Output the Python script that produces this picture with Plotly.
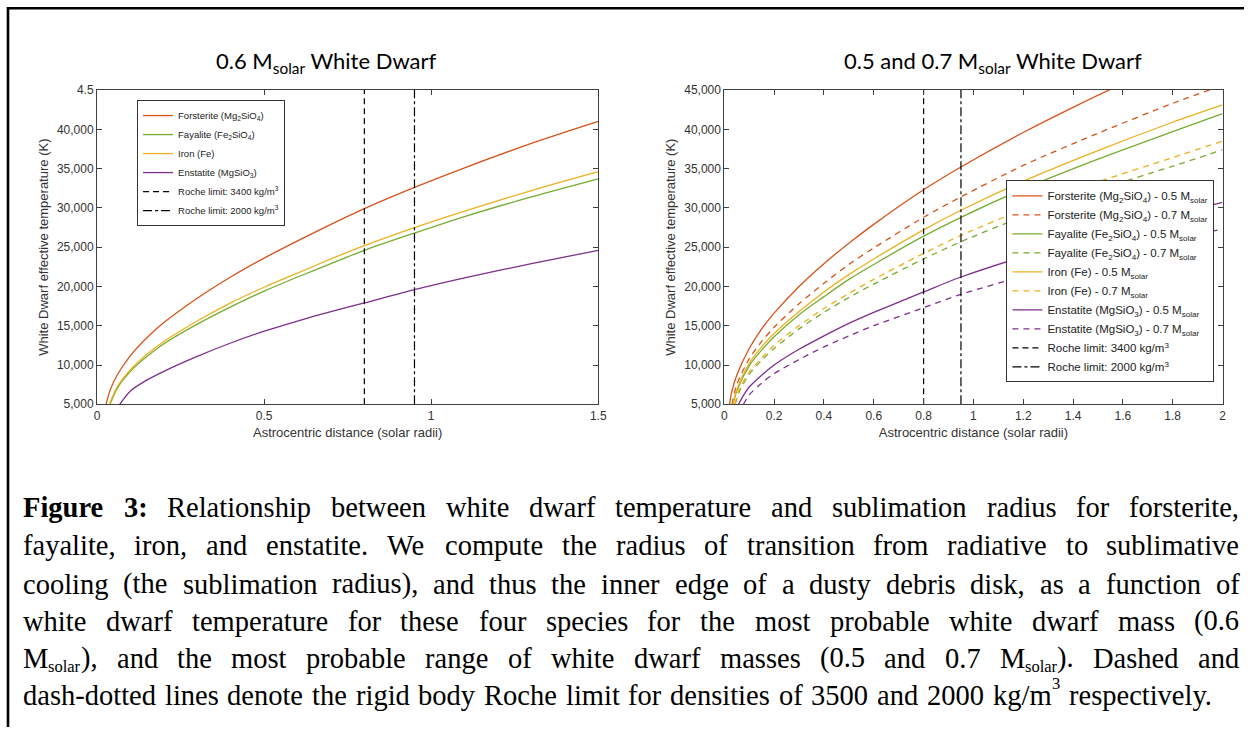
import re
import plotly.graph_objects as go

W, H = 1253, 734

# ---------------- data ----------------
# Left panel: 0.6 M_solar white dwarf  (r in solar radii, T in K)
fo06_r = [0.027, 0.04, 0.06, 0.1, 0.15, 0.2, 0.3, 0.4, 0.5, 0.6, 0.7, 0.8, 0.95, 1.1, 1.3, 1.5]
fo06_t = [5000, 6900, 8700, 11200, 13500, 15400, 18500, 21200, 23600, 25800, 27900, 29900, 32600, 35100, 38200, 41000]
fa06_r = [0.039, 0.06, 0.1, 0.15, 0.2, 0.3, 0.4, 0.5, 0.6, 0.7, 0.8, 0.95, 1.1, 1.3, 1.5]
fa06_t = [5000, 7000, 9200, 11100, 12700, 15200, 17400, 19400, 21200, 22900, 24600, 26800, 28900, 31400, 33700]
fe06_r = [0.037, 0.06, 0.1, 0.15, 0.2, 0.3, 0.4, 0.5, 0.6, 0.7, 0.8, 0.95, 1.1, 1.3, 1.5]
fe06_t = [5000, 7200, 9400, 11400, 13000, 15600, 17900, 19900, 21700, 23500, 25200, 27500, 29600, 32200, 34600]
en06_r = [0.068, 0.1, 0.15, 0.2, 0.3, 0.4, 0.5, 0.6, 0.7, 0.8, 0.95, 1.1, 1.3, 1.5]
en06_t = [5000, 6700, 8100, 9200, 11100, 12800, 14300, 15600, 16800, 17900, 19600, 21100, 22900, 24600]

# Right panel: 0.5 and 0.7 M_solar white dwarfs
fo05_r = [0.021, 0.03, 0.05, 0.1, 0.15, 0.2, 0.3, 0.4, 0.5, 0.6, 0.8, 0.95, 1.2, 1.4, 1.6, 2.0]
fo05_t = [5000, 6600, 8700, 12100, 14600, 16600, 20000, 22900, 25500, 27900, 32300, 35200, 39600, 42800, 45800, 51100]
fo07_r = [0.031, 0.05, 0.1, 0.15, 0.2, 0.3, 0.4, 0.5, 0.6, 0.8, 0.95, 1.2, 1.5, 1.8, 2.0]
fo07_t = [5000, 7500, 10800, 13000, 14800, 17800, 20400, 22800, 24900, 28800, 31400, 35400, 39500, 43300, 45600]
fa05_r = [0.035, 0.05, 0.1, 0.15, 0.2, 0.3, 0.4, 0.5, 0.6, 0.8, 0.95, 1.2, 1.5, 1.8, 2.0]
fa05_t = [5000, 6700, 9900, 11900, 13600, 16400, 18700, 20900, 22800, 26400, 28800, 32400, 36200, 39700, 42000]
fa07_r = [0.044, 0.06, 0.1, 0.15, 0.2, 0.3, 0.4, 0.5, 0.6, 0.8, 0.95, 1.2, 1.5, 1.8, 2.0]
fa07_t = [5000, 6600, 8800, 10600, 12100, 14600, 16700, 18600, 20300, 23500, 25700, 28900, 32300, 35300, 37400]
fe05_r = [0.034, 0.05, 0.1, 0.15, 0.2, 0.3, 0.4, 0.5, 0.6, 0.8, 0.95, 1.2, 1.5, 1.8, 2.0]
fe05_t = [5000, 6900, 10200, 12300, 14000, 16800, 19300, 21500, 23500, 27200, 29700, 33400, 37300, 40900, 43100]
fe07_r = [0.042, 0.06, 0.1, 0.15, 0.2, 0.3, 0.4, 0.5, 0.6, 0.8, 0.95, 1.2, 1.5, 1.8, 2.0]
fe07_t = [5000, 6900, 9100, 10900, 12500, 15000, 17200, 19100, 20900, 24200, 26500, 29800, 33300, 36400, 38500]
en05_r = [0.057, 0.08, 0.1, 0.15, 0.2, 0.3, 0.4, 0.5, 0.6, 0.8, 0.95, 1.2, 1.5, 1.8, 2.0]
en05_t = [5000, 6300, 7200, 8700, 10000, 12000, 13700, 15300, 16700, 19300, 21200, 23800, 26500, 29100, 30700]
en07_r = [0.077, 0.1, 0.15, 0.2, 0.3, 0.4, 0.5, 0.6, 0.8, 0.95, 1.2, 1.5, 1.8, 2.0]
en07_t = [5000, 6200, 7700, 8900, 10700, 12300, 13700, 15000, 17300, 19000, 21300, 23800, 26000, 27300]

# Roche limits (solar radii)
roche_3400 = 0.8
roche_2000 = 0.95
t_span = [5000, 45000]

# tick labels
y_vals = [5000, 10000, 15000, 20000, 25000, 30000, 35000, 40000, 45000]
y_text_left = ["5,000", "10,000", "15,000", "20,000", "25,000", "30,000", "35,000", "40,000", "4.5"]
y_text_right = ["5,000", "10,000", "15,000", "20,000", "25,000", "30,000", "35,000", "40,000", "45,000"]
x_vals_left = [0, 0.5, 1, 1.5]
x_text_left = ["0", "0.5", "1", "1.5"]
x_vals_right = [0, 0.2, 0.4, 0.6, 0.8, 1, 1.2, 1.4, 1.6, 1.8, 2]
x_text_right = ["0", "0.2", "0.4", "0.6", "0.8", "1", "1.2", "1.4", "1.6", "1.8", "2"]

caption_lines = [
    "<b>Figure</b> <b>3:</b> Relationship between white dwarf temperature and sublimation radius for forsterite,",
    "fayalite, iron, and enstatite. We compute the radius of transition from radiative to sublimative",
    "cooling (the sublimation radius), and thus the inner edge of a dusty debris disk, as a function of",
    "white dwarf temperature for these four species for the most probable white dwarf mass (0.6",
    "M<sub>solar</sub>), and the most probable range of white dwarf masses (0.5 and 0.7 M<sub>solar</sub>). Dashed and",
    "dash-dotted lines denote the rigid body Roche limit for densities of 3500 and 2000 kg/m<sup>3</sup> respectively.",
]

# ---------------- styles ----------------
C_FO = "#D95319"
C_FA = "#77AC30"
C_FE = "#EDB120"
C_EN = "#7E2F8E"
AX = "#404040"
SANS = "Liberation Sans, Arial, sans-serif"
TICKFONT = dict(family=SANS, size=12, color="#333333")
LW = 1.3

# page placement calibration (photographed page is offset/scaled slightly)
SX, OX = 0.990, 3.0
SY, OY = 0.977, 8.3


def px(x):
    return ((x - OX) / SX) / W


def py(y):
    return 1 - ((y - OY) / SY) / H


fig = go.Figure()

left = [
    (fo06_r, fo06_t, C_FO, "Forsterite (Mg<sub>2</sub>SiO<sub>4</sub>)"),
    (fa06_r, fa06_t, C_FA, "Fayalite (Fe<sub>2</sub>SiO<sub>4</sub>)"),
    (fe06_r, fe06_t, C_FE, "Iron (Fe)"),
    (en06_r, en06_t, C_EN, "Enstatite (MgSiO<sub>3</sub>)"),
]
for r, t, c, name in left:
    fig.add_trace(go.Scatter(x=r, y=t, mode="lines", name=name,
                             line=dict(color=c, width=LW, shape="spline", smoothing=0.8),
                             xaxis="x", yaxis="y", legend="legend"))
fig.add_trace(go.Scatter(x=[roche_3400, roche_3400], y=t_span, mode="lines", name="Roche limit: 3400 kg/m<sup>3</sup>",
                         line=dict(color="black", width=1.2, dash="6px,4px"), xaxis="x", yaxis="y", legend="legend"))
fig.add_trace(go.Scatter(x=[roche_2000, roche_2000], y=t_span, mode="lines", name="Roche limit: 2000 kg/m<sup>3</sup>",
                         line=dict(color="black", width=1.2, dash="dashdot"), xaxis="x", yaxis="y", legend="legend"))

MS = " M<sub>solar</sub>"
right = [
    (fo05_r, fo05_t, C_FO, "solid", "Forsterite (Mg<sub>2</sub>SiO<sub>4</sub>) - 0.5" + MS),
    (fo07_r, fo07_t, C_FO, "6px,5px", "Forsterite (Mg<sub>2</sub>SiO<sub>4</sub>) - 0.7" + MS),
    (fa05_r, fa05_t, C_FA, "solid", "Fayalite (Fe<sub>2</sub>SiO<sub>4</sub>) - 0.5" + MS),
    (fa07_r, fa07_t, C_FA, "6px,5px", "Fayalite (Fe<sub>2</sub>SiO<sub>4</sub>) - 0.7" + MS),
    (fe05_r, fe05_t, C_FE, "solid", "Iron (Fe) - 0.5" + MS),
    (fe07_r, fe07_t, C_FE, "6px,5px", "Iron (Fe) - 0.7" + MS),
    (en05_r, en05_t, C_EN, "solid", "Enstatite (MgSiO<sub>3</sub>) - 0.5" + MS),
    (en07_r, en07_t, C_EN, "6px,5px", "Enstatite (MgSiO<sub>3</sub>) - 0.7" + MS),
]
for r, t, c, d, name in right:
    fig.add_trace(go.Scatter(x=r, y=t, mode="lines", name=name,
                             line=dict(color=c, width=LW, dash=d, shape="spline", smoothing=0.8),
                             xaxis="x2", yaxis="y2", legend="legend2"))
fig.add_trace(go.Scatter(x=[roche_3400, roche_3400], y=t_span, mode="lines", name="Roche limit: 3400 kg/m<sup>3</sup>",
                         line=dict(color="black", width=1.2, dash="6px,4px"), xaxis="x2", yaxis="y2", legend="legend2"))
fig.add_trace(go.Scatter(x=[roche_2000, roche_2000], y=t_span, mode="lines", name="Roche limit: 2000 kg/m<sup>3</sup>",
                         line=dict(color="black", width=1.2, dash="dashdot"), xaxis="x2", yaxis="y2", legend="legend2"))

axis_common = dict(showline=True, linecolor=AX, linewidth=1, mirror="ticks", ticks="inside", ticklen=5,
                   tickcolor=AX, tickwidth=1, showgrid=False, zeroline=False, tickfont=TICKFONT)
title_font = dict(family=SANS, size=13, color="#333333")
XT = "Astrocentric distance (solar radii)"
YT = "White Dwarf effective temperature (K)"

fig.update_layout(
    width=W, height=H, margin=dict(l=0, r=0, t=0, b=0),
    paper_bgcolor="white", plot_bgcolor="white",
    xaxis=dict(domain=[px(97), px(598)], range=[0, 1.5], tickvals=x_vals_left, ticktext=x_text_left,
               anchor="y", title=dict(text=XT, font=title_font, standoff=6), **axis_common),
    yaxis=dict(domain=[py(404), py(91)], range=[5000, 45000], tickvals=y_vals, ticktext=y_text_left,
               anchor="x", title=dict(text=YT, font=title_font, standoff=5), **axis_common),
    xaxis2=dict(domain=[px(724), px(1222)], range=[0, 2], tickvals=x_vals_right, ticktext=x_text_right,
                anchor="y2", title=dict(text=XT, font=title_font, standoff=6), **axis_common),
    yaxis2=dict(domain=[py(404), py(91)], range=[5000, 45000], tickvals=y_vals, ticktext=y_text_right,
                anchor="x2", title=dict(text=YT, font=title_font, standoff=5), **axis_common),
    legend=dict(x=px(137), y=py(101), xanchor="left", yanchor="top", bgcolor="white", bordercolor="#333333",
                borderwidth=1, font=dict(family=SANS, size=9.5, color="#222222"),
                itemwidth=30, tracegroupgap=0),
    legend2=dict(x=px(1006), y=py(181), xanchor="left", yanchor="top", bgcolor="white", bordercolor="#333333",
                 borderwidth=1, font=dict(family=SANS, size=11.5, color="#222222"),
                 itemwidth=30, tracegroupgap=0),
)

# panel titles
title_f = dict(family="Lato, Open Sans, sans-serif", size=22, color="black")
fig.add_annotation(x=px(326), y=py(63), xref="paper", yref="paper", showarrow=False, xanchor="center",
                   yanchor="middle", text="0.6 M<sub>solar</sub> White Dwarf", font=title_f)
fig.add_annotation(x=px(993), y=py(63), xref="paper", yref="paper", showarrow=False, xanchor="center",
                   yanchor="middle", text="0.5 and 0.7 M<sub>solar</sub> White Dwarf", font=title_f)

# ---------------- caption: justified, word by word ----------------
TIMES = {' ': 250, '!': 333, '(': 333, ')': 333, ',': 250, '-': 333, '.': 250, '/': 278, ':': 278,
         'A': 722, 'B': 667, 'C': 667, 'D': 722, 'E': 611, 'F': 556, 'G': 722, 'H': 722, 'I': 333, 'J': 389,
         'K': 722, 'L': 611, 'M': 889, 'N': 722, 'O': 722, 'P': 556, 'Q': 722, 'R': 667, 'S': 556, 'T': 611,
         'U': 722, 'V': 722, 'W': 944, 'X': 722, 'Y': 722, 'Z': 611,
         'a': 444, 'b': 500, 'c': 444, 'd': 500, 'e': 444, 'f': 333, 'g': 500, 'h': 500, 'i': 278, 'j': 278,
         'k': 500, 'l': 278, 'm': 778, 'n': 500, 'o': 500, 'p': 500, 'q': 500, 'r': 333, 's': 389, 't': 278,
         'u': 500, 'v': 500, 'w': 722, 'x': 500, 'y': 500, 'z': 444}
TIMES_BOLD = {'F': 611, 'i': 278, 'g': 500, 'u': 556, 'r': 444, 'e': 444, ':': 333}
CAP_SIZE = 28.5
SMALL = 0.58  # size ratio of sub/superscripts in the caption
SERIF = "Liberation Serif, Times New Roman, serif"


def segments(word):
    """split a word into (kind, text) pieces: plain, bold, sub, sup"""
    out = []
    for seg in re.split(r"(<sub>.*?</sub>|<sup>.*?</sup>|<b>.*?</b>)", word):
        if not seg:
            continue
        inner = re.sub(r"<[^>]+>", "", seg)
        kind = "sub" if seg.startswith("<sub>") else "sup" if seg.startswith("<sup>") else \
            "bold" if seg.startswith("<b>") else "plain"
        out.append((kind, inner))
    return out


def seg_width(kind, text, size):
    if kind in ("sub", "sup"):
        return sum(TIMES.get(ch, 500) for ch in text) * SMALL / 1000.0 * size
    if kind == "bold":
        return sum(TIMES_BOLD.get(ch, TIMES.get(ch, 500)) for ch in text) / 1000.0 * size
    return sum(TIMES.get(ch, 500) for ch in text) / 1000.0 * size


cap_y = [507, 545, 583, 620, 657, 694]
cap_x0 = 22
cap_x1 = [1238, 1238, 1238, 1238, 1238, 1212]
for line, yy, xe in zip(caption_lines, cap_y, cap_x1):
    words = [segments(w_) for w_ in line.split(" ")]
    widths = [sum(seg_width(k, t, CAP_SIZE) for k, t in segs) for segs in words]
    gap = (xe - cap_x0 - sum(widths)) / (len(words) - 1)
    x = cap_x0
    for segs, wd in zip(words, widths):
        sx = x
        for kind, txt in segs:
            size = CAP_SIZE * SMALL if kind in ("sub", "sup") else CAP_SIZE
            dy = 0.30 * CAP_SIZE if kind == "sub" else (-0.42 * CAP_SIZE if kind == "sup" else 0)
            label = "<b>%s</b>" % txt if kind == "bold" else txt
            fig.add_annotation(x=px(sx), y=py(yy + dy), xref="paper", yref="paper", showarrow=False,
                               xanchor="left", yanchor="middle", align="left", text=label, borderpad=0,
                               font=dict(family=SERIF, size=size, color="black"))
            sx += seg_width(kind, txt, CAP_SIZE)
        x += wd + gap

# frame lines (top and left)
fig.add_shape(type="line", xref="paper", yref="paper", x0=px(7), x1=1, y0=1 - 1.3 / H, y1=1 - 1.3 / H,
              line=dict(color="black", width=2.6))
fig.add_shape(type="line", xref="paper", yref="paper", x0=px(8), x1=px(8), y0=1, y1=0,
              line=dict(color="black", width=2.6))

fig.write_html("out.html", config={"displayModeBar": False},
               post_script="document.body.style.margin='0';document.body.style.overflow='hidden';")
